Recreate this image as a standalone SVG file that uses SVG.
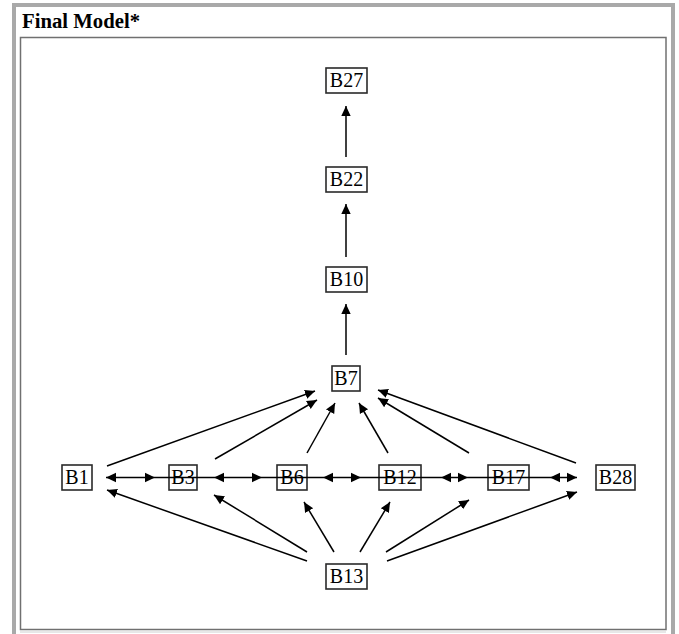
<svg xmlns="http://www.w3.org/2000/svg" width="679" height="634" viewBox="0 0 679 634">
<style>
.box{fill:#fff;stroke:#2a2a2a;stroke-width:1.6}
.lbl{font-family:"Liberation Serif","Times New Roman",serif;font-size:20px;fill:#000;text-anchor:middle}
.title{font-family:"Liberation Serif","Times New Roman",serif;font-size:20px;font-weight:bold;fill:#000}
.edge{fill:none;stroke:#000;stroke-width:1.5}
</style>
<defs>
<marker id="ah" markerUnits="userSpaceOnUse" markerWidth="12" markerHeight="12" refX="10" refY="6" orient="auto-start-reverse">
<path d="M0,1.3 L10,6 L0,10.7 z" fill="#000"/>
</marker>
</defs>
<rect x="0" y="0" width="679" height="634" fill="#fff"/>
<rect x="14" y="5" width="659" height="640" fill="#fff" stroke="#a9a9a9" stroke-width="4"/>
<text class="title" x="22" y="27.5" textLength="118" lengthAdjust="spacingAndGlyphs">Final Model*</text>
<rect x="20.5" y="37.5" width="645.5" height="592" fill="#fff" stroke="#707070" stroke-width="1.5"/>
<line x1="20" y1="632" x2="666" y2="632" stroke="#d0d0d0" stroke-width="1"/>

<g id="node-B27"><rect class="box" x="326" y="68" width="41" height="25"/><text class="lbl" x="346.5" y="87">B27</text></g>
<g id="node-B22"><rect class="box" x="326" y="167" width="41" height="25"/><text class="lbl" x="346.5" y="186">B22</text></g>
<g id="node-B10"><rect class="box" x="326" y="267" width="41" height="25"/><text class="lbl" x="346.5" y="286">B10</text></g>
<g id="node-B7"><rect class="box" x="332" y="366" width="28" height="25"/><text class="lbl" x="346" y="385">B7</text></g>
<g id="node-B1"><rect class="box" x="62" y="465" width="30" height="25"/><text class="lbl" x="77" y="484">B1</text></g>
<g id="node-B3"><rect class="box" x="169" y="465" width="28" height="25"/><text class="lbl" x="183" y="484">B3</text></g>
<g id="node-B6"><rect class="box" x="277" y="465" width="30" height="25"/><text class="lbl" x="292" y="484">B6</text></g>
<g id="node-B12"><rect class="box" x="379" y="465" width="42" height="25"/><text class="lbl" x="400" y="484">B12</text></g>
<g id="node-B17"><rect class="box" x="488" y="465" width="41" height="25"/><text class="lbl" x="508.5" y="484">B17</text></g>
<g id="node-B28"><rect class="box" x="596" y="465" width="39" height="25"/><text class="lbl" x="615.5" y="484">B28</text></g>
<g id="node-B13"><rect class="box" x="326" y="564" width="41" height="25"/><text class="lbl" x="346.5" y="583">B13</text></g>

<g id="connectors">
<path class="edge" d="M346,157 L346,106" marker-end="url(#ah)"/>
<path class="edge" d="M346,257 L346,204" marker-end="url(#ah)"/>
<path class="edge" d="M346,355 L346,304" marker-end="url(#ah)"/>

<path class="edge" d="M107,466 L315,391" marker-end="url(#ah)"/>
<path class="edge" d="M215,459 L317,400" marker-end="url(#ah)"/>
<path class="edge" d="M307,453 L335,403" marker-end="url(#ah)"/>
<path class="edge" d="M388,453 L359,403" marker-end="url(#ah)"/>
<path class="edge" d="M469,453 L378,398" marker-end="url(#ah)"/>
<path class="edge" d="M576,463 L378,390" marker-end="url(#ah)"/>

<path class="edge" d="M307,561 L107,490" marker-end="url(#ah)"/>
<path class="edge" d="M307,552 L214,495" marker-end="url(#ah)"/>
<path class="edge" d="M334,552 L304,502" marker-end="url(#ah)"/>
<path class="edge" d="M360,552 L390,502" marker-end="url(#ah)"/>
<path class="edge" d="M386,552 L469,500" marker-end="url(#ah)"/>
<path class="edge" d="M387,561 L577,492" marker-end="url(#ah)"/>

<path class="edge" d="M155,477.5 L214,477.5 M262,477.5 L323,477.5 M361,477.5 L441,477.5 M468,477.5 L550,477.5"/>
<path class="edge" d="M106,477.5 L155,477.5" marker-start="url(#ah)" marker-end="url(#ah)"/>
<path class="edge" d="M214,477.5 L262,477.5" marker-start="url(#ah)" marker-end="url(#ah)"/>
<path class="edge" d="M323,477.5 L361,477.5" marker-start="url(#ah)" marker-end="url(#ah)"/>
<path class="edge" d="M441,477.5 L468,477.5" marker-start="url(#ah)" marker-end="url(#ah)"/>
<path class="edge" d="M550,477.5 L577,477.5" marker-start="url(#ah)" marker-end="url(#ah)"/>
</g>
</svg>
